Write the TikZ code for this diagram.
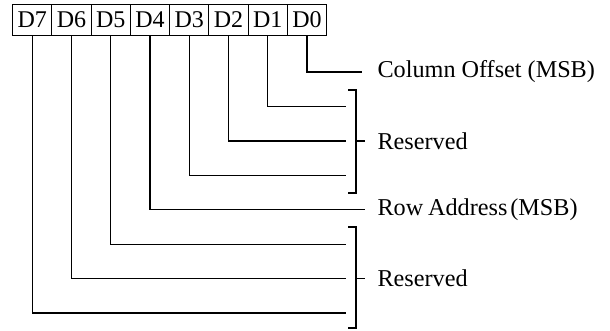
\documentclass[tikz,border=0pt]{standalone}
\usepackage{fontspec}
\setmainfont{Liberation Serif}
\begin{document}
\begin{tikzpicture}[x=1pt,y=-1pt,line width=1.2pt,
  cell/.style={draw,minimum width=39.25pt,minimum height=31pt,inner sep=0pt,anchor=north west,font=\fontsize{24}{28}\selectfont},
  lbl/.style={anchor=west,inner sep=0pt,font=\fontsize{24.2}{28}\selectfont},
  wire/.style={line cap=rect}]
\useasboundingbox (0,0) rectangle (610,330);
% register cells
\foreach \i/\n in {0/7,1/6,2/5,3/4,4/3,5/2,6/1,7/0}
  \node[cell] (d\n) at ({12+39.25*\i},3.5) {D\n};
% wire end points
\coordinate (e0) at (362,72);
\coordinate (e1) at (346,106.4);
\coordinate (e2) at (346,140.9);
\coordinate (e3) at (346,175.3);
\coordinate (e4) at (365,209.7);
\coordinate (e5) at (346,244.2);
\coordinate (e6) at (346,278.6);
\coordinate (e7) at (346,313);
\foreach \n in {0,...,7}
  \draw (d\n.south) |- (e\n);
% brackets
\draw (348,90) -- (356,90) -- (356,193) -- (348,193);
\coordinate (b1) at (365,140.9);
\draw (356,140.9) -- (b1);
\draw (348,227) -- (356,227) -- (356,328) -- (348,328);
\coordinate (b2) at (365,278.6);
\draw (356,278.6) -- (b2);
% labels
\node[lbl] (l0) at (377,72) {Column Offset (MSB)};
\node[lbl] (l1) at (377,140.9) {Reserved};
\node[lbl] (l2) at (377,209.7) {Row\hspace{0.2em}Address\hspace{0.12em}(MSB)};
\node[lbl] (l3) at (377,278.6) {Reserved};
\end{tikzpicture}
\end{document}
